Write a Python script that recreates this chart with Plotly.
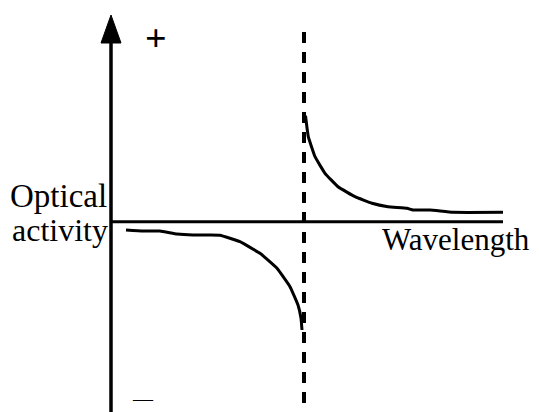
import plotly.graph_objects as go

# Data (arbitrary units): wavelength, optical activity
left_wavelength = [1.5, 3.2, 4.9, 6.6, 8.2, 9.9, 10.9, 12.9, 14.9, 16.6, 17.9, 18.7, 19.0, 19.1]
left_activity = [-0.83, -0.93, -0.93, -1.23, -1.33, -1.33, -1.35, -2.0, -3.16, -4.66, -6.5, -8.33, -9.66, -10.83]
right_wavelength = [19.45, 19.73, 20.4, 21.4, 22.7, 24.4, 26.1, 27.7, 29.6, 30.2, 31.9, 34.2, 39.2]
right_activity = [10.6, 8.5, 6.5, 4.84, 3.5, 2.5, 1.84, 1.5, 1.34, 1.17, 1.17, 0.94, 0.94]
absorption_wavelength = 19.3
x_axis_end = 39.2
x_range = [-10.3, 43.6]
y_range = [-19.83, 21.37]

FONT = "Liberation Serif, Times New Roman, serif"

fig = go.Figure()

for xs, ys in [(left_wavelength, left_activity), (right_wavelength, right_activity)]:
    fig.add_trace(go.Scatter(x=xs, y=ys, mode="lines",
                             line=dict(color="black", width=3, shape="spline", smoothing=0.3),
                             showlegend=False, hoverinfo="skip"))

# arrowhead of the y axis
fig.add_trace(go.Scatter(x=[0, -1.0, 1.0, 0], y=[20.67, 17.87, 17.87, 20.67], mode="lines",
                         fill="toself", fillcolor="black", line=dict(color="black", width=1),
                         showlegend=False, hoverinfo="skip"))

shapes = [
    dict(type="line", x0=0, x1=0, y0=y_range[0], y1=18.0, line=dict(color="black", width=3.5)),
    dict(type="line", x0=0, x1=x_axis_end, y0=0, y1=0, line=dict(color="black", width=3)),
    dict(type="line", x0=absorption_wavelength, x1=absorption_wavelength, y0=18.97, y1=y_range[0],
         line=dict(color="black", width=4, dash="11px,9px")),
]

annotations = [
    dict(x=-0.2, y=2.57, text="Optical", showarrow=False, xanchor="right", yanchor="middle",
         font=dict(family=FONT, size=33, color="black")),
    dict(x=-0.1, y=-0.83, text="activity", showarrow=False, xanchor="right", yanchor="middle",
         font=dict(family=FONT, size=32, color="black")),
    dict(x=26.9, y=-1.73, text="Wavelength", showarrow=False, xanchor="left", yanchor="middle",
         font=dict(family=FONT, size=31, color="black")),
    dict(x=4.5, y=18.37, text="<b>+</b>", showarrow=False, xanchor="center", yanchor="middle",
         font=dict(family=FONT, size=38, color="black")),
    dict(x=3.2, y=-19.03, text="\u2014", showarrow=False, xanchor="center", yanchor="bottom",
         font=dict(family=FONT, size=20, color="black")),
]

fig.update_layout(
    width=539, height=412,
    margin=dict(l=0, r=0, t=0, b=0),
    paper_bgcolor="white", plot_bgcolor="white",
    xaxis=dict(range=x_range, visible=False, fixedrange=True),
    yaxis=dict(range=y_range, visible=False, fixedrange=True),
    shapes=shapes, annotations=annotations,
)

fig.write_html("out.html")
